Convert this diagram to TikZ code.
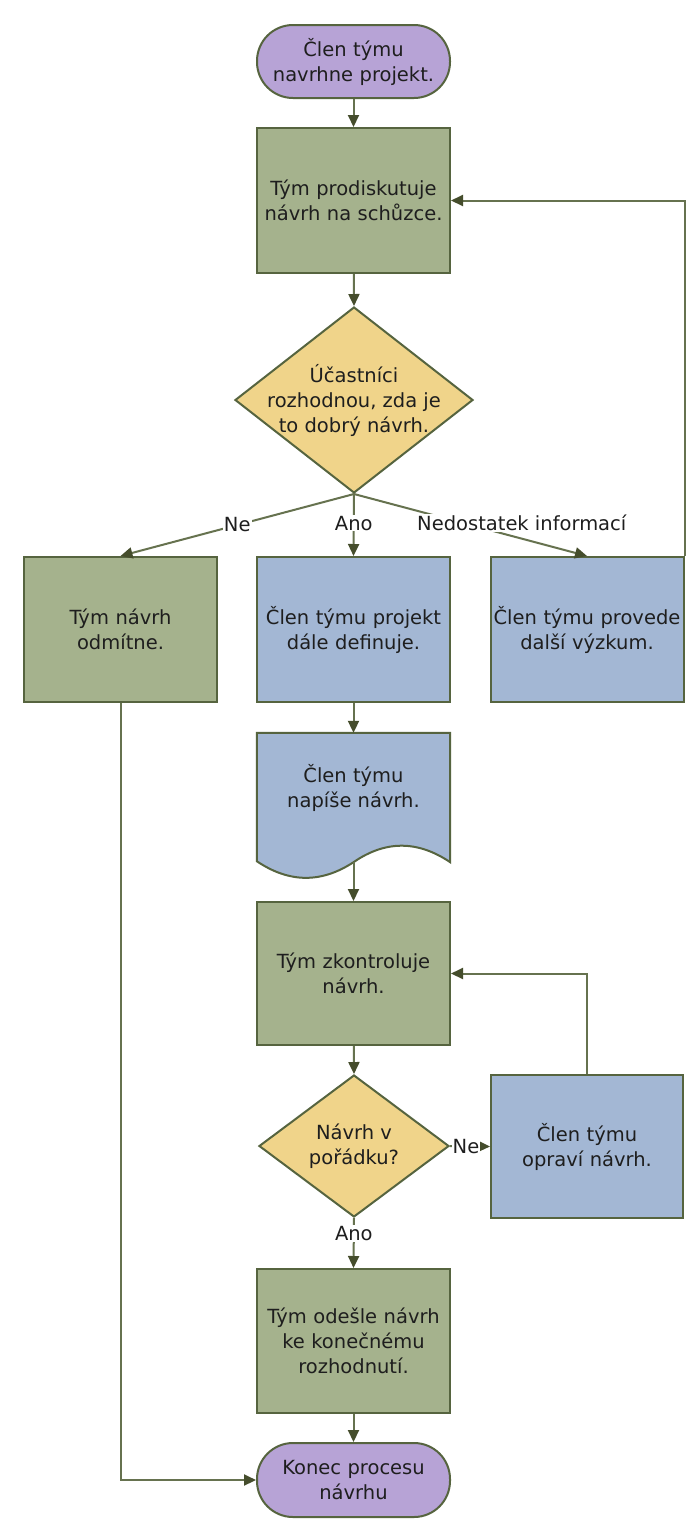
\documentclass[tikz,border=0pt]{standalone}
\usepackage{fontspec}
\setmainfont{DejaVu Sans}
\usetikzlibrary{arrows.meta,shapes.geometric,calc}

\definecolor{boxgreen}{HTML}{A5B28D}
\definecolor{boxblue}{HTML}{A3B7D4}
\definecolor{termpurple}{HTML}{B7A3D6}
\definecolor{decyellow}{HTML}{F0D48A}
\definecolor{edgecol}{HTML}{56643F}
\definecolor{linecol}{HTML}{66724F}
\definecolor{arrowcol}{HTML}{454D2C}
\definecolor{inkcol}{HTML}{1E1E1E}

\begin{document}
\begin{tikzpicture}[x=1pt,y=-1pt,
  txt/.style={text=inkcol, font=\fontsize{19.5}{25}\selectfont, align=center},
  base/.style={txt, draw=edgecol, line width=2pt, inner sep=0pt},
  procbox/.style={base, rectangle, minimum width=193pt, minimum height=145pt, text width=189pt},
  greenbox/.style={procbox, fill=boxgreen},
  bluebox/.style={procbox, fill=boxblue},
  terminal/.style={base, fill=termpurple, rectangle, rounded corners=36pt,
    minimum width=193pt, minimum height=73pt, text width=185pt},
  decision/.style={draw=edgecol, line width=2pt, fill=decyellow, diamond, inner sep=0pt},
  conn/.style={draw=linecol, line width=2pt,
    -{Triangle[length=12pt,width=11pt,color=arrowcol]}},
  lbl/.style={txt, fill=white, inner sep=1pt}
]
\useasboundingbox[fill=white] (0,0) rectangle (686,1524);

% main column
\node[terminal] (start) at (353.5,61.5) {Člen týmu\\navrhne projekt.};
\node[greenbox] (discuss) at (353.5,200.5) {Tým prodiskutuje\\návrh na schůzce.};
\node[decision, minimum width=238pt, minimum height=186pt,
  label={[txt]center:{Účastníci\\rozhodnou, zda je\\to dobrý návrh.}}] (decide) at (354,400) {};

% three outcomes of the first decision
\node[greenbox] (reject) at (120.5,629.5) {Tým návrh\\odmítne.};
\node[bluebox] (define) at (353.5,629.5) {Člen týmu projekt\\dále definuje.};
\node[bluebox] (research) at (587,629.5) {Člen týmu provede\\další výzkum.};

% document shape: frame node plus a wavy-bottom outline
\node[minimum width=193pt, minimum height=129pt, inner sep=0pt] (doc) at (353.5,797.5) {};
\path[draw=edgecol, fill=boxblue, line width=2pt]
  (doc.north west) -- (doc.north east) -- (doc.south east)
  .. controls ($(doc.south)+(64,-22)$) and ($(doc.south)+(32,-22)$) .. (doc.south)
  .. controls ($(doc.south)+(-32,21)$) and ($(doc.south)+(-64,21)$) .. ($(doc.south west)+(0,-1)$)
  -- cycle;
\node[txt] (doctext) at ($(doc.center)+(0,-10)$) {Člen týmu\\napíše návrh.};

\node[greenbox, minimum height=143pt] (check) at (353.5,973.5) {Tým zkontroluje\\návrh.};
\node[decision, minimum width=190pt, minimum height=142pt,
  label={[txt]center:{Návrh v\\pořádku?}}] (ok) at (354,1146) {};
\node[bluebox, minimum width=192pt, minimum height=143pt] (fix) at (587,1146.5) {Člen týmu\\opraví návrh.};
\node[greenbox, minimum height=144pt] (send) at (353.5,1341) {Tým odešle návrh\\ke konečnému\\rozhodnutí.};
\node[terminal, minimum height=74pt] (finish) at (353.5,1480) {Konec procesu\\návrhu};

% connectors
\draw[conn] (start) -- (discuss);
\draw[conn] (discuss) -- (decide.north);
\draw[conn] (decide.south) -- node[lbl, pos=0.5] {Ne} (reject.north);
\draw[conn] (decide.south) -- node[lbl, pos=0.47] {Ano} (define.north);
\draw[conn] (decide.south) -- node[lbl, pos=0.72, yshift=16pt] {Nedostatek informací} (research.north);
\draw[conn] (research.north east) |- (discuss.east);
\draw[conn] (define) -- (doc.north);
\draw[conn] (doc.south) -- (check.north);
\draw[conn] (check) -- (ok.north);
\draw[conn] (ok.east) -- node[lbl, pos=0.4] {Ne} (fix.west);
\draw[conn] (fix.north) |- (check.east);
\draw[conn] (ok.south) -- node[lbl, pos=0.31] {Ano} (send.north);
\draw[conn] (send) -- (finish);
\draw[conn] (reject.south) |- (finish.west);
\end{tikzpicture}
\end{document}
